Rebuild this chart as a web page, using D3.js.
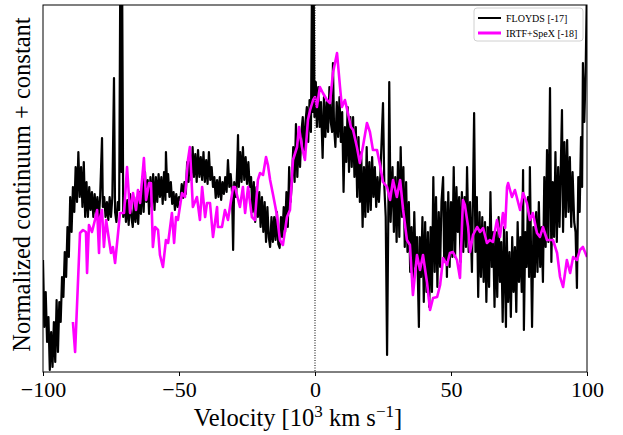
<!DOCTYPE html>
<html>
<head>
<meta charset="utf-8">
<script src="https://cdn.jsdelivr.net/npm/d3@7"></script>
<style>
  body { margin: 0; background: #fff; }
  svg text { font-family: "Liberation Serif", "DejaVu Serif", serif; }
</style>
</head>
<body>
<svg id="chart" width="623" height="435"></svg>
<script>
var width = 623,
    height = 435;

const margin = { top: 5, right: 36, bottom: 63, left: 43 };

// x ticks
const xTicks = [-100, -50, 0, 50, 100];

// legend labels
const seriesNames = ["FLOYDS [-17]", "IRTF+SpeX [-18]"];

// FLOYDS spectrum: [velocity (10^3 km/s), normalized flux + const]
const floyds = [
    [-100, 1.12], [-99.5, 0.45], [-99, 0.80], [-98.5, 0.30], [-98, 0.55], [-97.5, 0.02], [-97, 0.40], [-96.5, 0.05],
    [-96, 0.50], [-95.5, 0.10], [-95, 0.72], [-94.5, 0.20], [-94, 0.70], [-93.5, 0.50], [-93, 0.95], [-92.5, 0.75],
    [-92, 1.20], [-91.5, 0.95], [-91, 1.45], [-90.5, 1.15], [-90, 1.75], [-89.5, 1.40], [-89, 1.85], [-88.5, 1.60],
    [-88, 2.05], [-87.5, 1.70], [-87, 2.20], [-86.5, 1.75], [-86, 2.05], [-85.5, 1.65], [-85, 2.10], [-84.5, 1.55],
    [-84, 1.90], [-83.5, 1.55], [-83, 1.85], [-82.5, 1.62], [-82, 1.80], [-81.5, 1.55], [-81, 1.78], [-80.5, 1.58],
    [-80, 1.75], [-79.5, 1.52], [-79, 1.75], [-78.3, 2.34], [-78, 1.65], [-77.5, 1.75], [-77, 1.55], [-76.5, 1.70],
    [-76, 1.52], [-75.5, 1.75], [-75, 1.55], [-74.5, 1.75], [-73.9, 2.94], [-73.5, 1.60], [-73, 1.50], [-72.5, 1.70],
    [-72, 1.62], [-71.6, 3.90], [-71.2, 2.00], [-70.9, 3.90], [-70.5, 1.55], [-70, 1.75], [-69.5, 1.50], [-69, 1.72],
    [-68.5, 1.47], [-68, 1.78], [-67.5, 1.55], [-67, 1.45], [-66.5, 1.72], [-66, 1.50], [-65.5, 1.75], [-65, 1.48],
    [-64.5, 1.80], [-64, 1.58], [-63.5, 1.95], [-63, 1.60], [-62.5, 2.00], [-62, 1.70], [-61.5, 1.92], [-61, 1.58],
    [-60.5, 1.95], [-60, 1.65], [-59.5, 1.98], [-59, 1.62], [-58.5, 1.95], [-58, 1.70], [-57.5, 1.98], [-57, 1.75],
    [-56.5, 1.95], [-56, 1.68], [-55.5, 2.00], [-55, 1.72], [-54.8, 2.20], [-54.3, 1.80], [-54, 1.98], [-53.5, 1.75],
    [-53, 1.90], [-52.5, 1.68], [-52, 1.80], [-51.5, 1.62], [-51, 1.78], [-50.5, 1.65], [-50, 1.75], [-49.5, 1.72],
    [-49, 1.88], [-48.5, 1.74], [-48, 1.90], [-47.5, 1.78], [-47, 2.10], [-46.5, 1.90], [-46, 2.20], [-45.5, 1.92],
    [-45, 2.25], [-44.5, 1.95], [-44, 2.18], [-43.5, 1.90], [-43, 2.22], [-42.5, 1.95], [-42, 2.15], [-41.5, 1.92],
    [-41, 2.20], [-40.5, 1.90], [-40, 2.12], [-39.5, 1.88], [-39, 2.20], [-38.5, 1.92], [-38, 2.05], [-37.5, 1.85],
    [-37, 1.95], [-36.5, 1.74], [-36, 1.92], [-35.5, 1.75], [-35, 1.95], [-34.5, 1.72], [-34, 1.90], [-33.5, 1.78],
    [-33, 1.95], [-32.5, 1.80], [-32, 2.12], [-31.5, 1.85], [-31, 1.98], [-30.5, 1.80], [-30.1, 1.22], [-29.7, 1.90],
    [-29, 1.75], [-28.6, 2.05], [-28.3, 2.37], [-28, 1.85], [-27.5, 2.20], [-27, 1.90], [-26.5, 2.25], [-26, 1.92],
    [-25.5, 2.15], [-25, 1.88], [-24.5, 2.10], [-24, 1.85], [-23.5, 1.95], [-23, 1.60], [-22.5, 1.90], [-22, 1.50],
    [-21.5, 1.85], [-21, 1.55], [-20.5, 1.80], [-20, 1.45], [-19.5, 1.75], [-19, 1.40], [-18.5, 1.70], [-18, 1.30],
    [-17.5, 1.65], [-17, 1.35], [-16.5, 1.25], [-16, 1.55], [-15.5, 1.30], [-15, 1.55], [-14.5, 1.32], [-14, 1.60],
    [-13.5, 1.28], [-13, 1.24], [-12.5, 1.55], [-12, 1.35], [-11.5, 1.65], [-11, 1.40], [-10.5, 1.80], [-10, 1.45],
    [-9.5, 2.05], [-9, 1.70], [-8.5, 1.90], [-8, 2.25], [-7.5, 1.90], [-7, 2.48], [-6.5, 1.95], [-6, 2.35],
    [-5.5, 2.05], [-5, 2.40], [-4.5, 2.55], [-4, 2.15], [-3.5, 2.50], [-3, 2.65], [-2.5, 2.30], [-2, 2.72],
    [-1.5, 2.40], [-1.1, 3.90], [-0.8, 2.60], [-0.5, 3.90], [-0.2, 2.55], [0.3, 2.90], [0.7, 2.45], [1.2, 2.85],
    [1.7, 2.45], [2.2, 2.70], [2.8, 2.14], [3.3, 2.75], [3.8, 2.35], [4.3, 2.70], [4.8, 2.40], [5.3, 2.85],
    [5.8, 2.50], [6.3, 2.40], [6.6, 3.09], [7.0, 2.45], [7.5, 2.25], [8, 2.70], [8.5, 2.35], [9, 2.75],
    [9.5, 2.30], [10, 2.60], [10.5, 1.80], [11, 2.45], [11.5, 2.10], [12, 2.65], [12.5, 2.00], [13, 2.55],
    [13.5, 2.05], [14, 2.55], [14.5, 1.95], [15, 2.45], [15.5, 1.75], [16, 2.35], [16.5, 1.70], [17, 2.20],
    [17.5, 1.45], [18, 2.05], [18.5, 1.55], [19, 2.25], [19.5, 1.60], [20, 2.10], [20.5, 1.62], [21, 2.15],
    [21.5, 1.75], [22, 2.05], [22.5, 1.65], [23, 1.95], [23.5, 1.70], [24, 1.95], [25, 2.69], [25.5, 1.85],
    [26, 1.55], [26.5, 0.17], [27, 1.70], [27.3, 2.90], [27.8, 1.50], [28.5, 2.05], [29, 1.40], [29.5, 1.95],
    [30, 1.30], [30.5, 2.10], [31, 1.35], [31.5, 2.25], [32, 1.55], [32.5, 2.05], [33, 1.25], [33.5, 1.90],
    [34, 1.20], [34.5, 1.70], [35, 1.00], [35.5, 1.45], [36, 0.85], [36.5, 1.60], [37, 1.05], [37.5, 1.35],
    [38.2, 0.45], [38.5, 1.35], [39, 0.95], [39.5, 1.55], [40, 0.70], [40.5, 1.50], [41, 0.80], [41.5, 1.40],
    [42, 0.65], [42.5, 1.45], [43, 0.80], [43.5, 1.95], [44, 1.00], [44.5, 1.75], [45, 0.85], [45.5, 1.60],
    [46, 1.05], [46.5, 1.70], [47.1, 1.95], [47.5, 1.10], [48, 1.70], [48.5, 0.95], [49, 1.80], [49.5, 1.05],
    [50, 1.70], [50.5, 1.15], [51, 2.05], [51.5, 1.15], [52, 1.85], [52.5, 1.40], [53, 1.75], [53.5, 1.10],
    [54, 1.80], [54.5, 1.20], [55, 1.75], [55.5, 1.25], [55.9, 2.05], [56.5, 1.20], [57, 1.70], [57.7, 1.00],
    [58.5, 2.59], [59, 1.20], [59.5, 1.75], [60, 0.75], [60.5, 1.60], [61, 0.95], [61.5, 1.55], [62, 0.90],
    [62.5, 1.50], [63, 0.70], [63.5, 1.45], [64, 0.85], [64.5, 1.80], [65, 1.05], [65.5, 1.40], [66, 0.65],
    [66.5, 1.40], [67, 0.75], [67.5, 1.55], [68, 0.90], [68.5, 1.30], [69, 0.50], [69.5, 1.45], [70.2, 0.45],
    [70.5, 1.40], [71, 0.70], [71.5, 1.20], [72, 0.55], [72.5, 1.35], [73, 0.80], [73.5, 1.25], [74, 0.60],
    [74.5, 1.50], [75, 0.90], [75.5, 1.35], [76, 0.80], [76.5, 2.02], [76.8, 0.42], [77.3, 1.40], [77.8, 1.05],
    [78.3, 1.75], [78.7, 0.95], [79.0, 2.05], [79.8, 0.45], [80.3, 1.45], [80.8, 0.95], [81.3, 1.60], [81.8, 1.00],
    [82.3, 1.70], [82.8, 1.05], [83.3, 1.45], [83.8, 0.90], [84.3, 1.95], [84.8, 1.25], [85.3, 2.22], [85.8, 1.30],
    [86.4, 2.84], [86.9, 1.10], [87.4, 1.90], [87.9, 1.35], [88.4, 2.20], [88.9, 1.30], [89.4, 2.05], [89.9, 1.45],
    [90.8, 2.62], [91.2, 1.40], [91.7, 2.30], [92.2, 1.55], [92.7, 2.32], [93.2, 1.60], [93.7, 2.15], [94.2, 1.45],
    [94.7, 2.00], [95.3, 1.50], [95.8, 1.40], [96.3, 0.84], [96.8, 1.95], [97.3, 1.60], [97.8, 2.35], [98.2, 1.85],
    [98.5, 3.09], [99, 2.50], [99.5, 3.00], [100, 3.90]
];

// IRTF+SpeX spectrum
const spex = [
    [-89.0, 0.50], [-88.2, 0.20], [-86.4, 1.39], [-85.3, 1.42], [-84.2, 1.40], [-83.8, 0.99], [-83.1, 1.47], [-82.0, 1.40],
    [-80.9, 1.52], [-80.1, 1.62], [-79.4, 1.19], [-79.0, 1.55], [-78.3, 1.62], [-77.6, 1.25], [-76.8, 1.52], [-76.1, 1.39],
    [-75.0, 1.19], [-74.3, 1.25], [-73.5, 1.09], [-72.4, 1.39], [-71.7, 1.59], [-70.2, 1.59], [-69.1, 2.05], [-68.0, 1.59],
    [-66.9, 1.79], [-65.8, 1.62], [-65.1, 1.82], [-64.3, 1.69], [-62.9, 2.14], [-62.1, 1.72], [-61.0, 1.89], [-60.3, 1.89],
    [-59.6, 1.25], [-58.8, 1.45], [-57.7, 1.42], [-57.0, 1.17], [-55.9, 1.05], [-54.8, 1.32], [-54.0, 1.29], [-52.6, 1.59],
    [-51.8, 1.29], [-51.1, 1.55], [-50.4, 1.52], [-48.9, 1.79], [-47.8, 1.75], [-46.7, 2.12], [-46.0, 2.25], [-44.9, 1.65],
    [-43.4, 1.75], [-42.3, 1.52], [-41.5, 1.85], [-40.4, 1.55], [-39.7, 1.69], [-38.6, 1.69], [-37.5, 1.35], [-36.0, 1.65],
    [-35.7, 1.45], [-34.2, 1.45], [-33.1, 1.62], [-32.0, 1.52], [-30.1, 1.85], [-29.4, 1.85], [-27.6, 1.65], [-26.5, 1.85],
    [-25.7, 1.59], [-24.6, 1.85], [-23.2, 1.55], [-22.1, 1.52], [-21.0, 1.92], [-20.2, 1.99], [-19.1, 1.97], [-18.0, 2.15],
    [-17.3, 2.07], [-16.5, 1.92], [-15.4, 1.77], [-14.0, 1.57], [-12.9, 1.32], [-11.8, 1.27], [-10.3, 1.55], [-9.2, 1.62],
    [-8.1, 2.12], [-6.6, 2.25], [-5.9, 2.45], [-4.8, 2.25], [-3.7, 2.12], [-2.6, 2.52], [-1.8, 2.62], [-0.7, 2.72],
    [0, 2.75], [0.7, 2.65], [1.8, 2.85], [2.9, 2.79], [4.4, 2.72], [5.5, 2.69], [6.6, 2.99], [8.1, 3.19],
    [9.2, 2.85], [9.9, 2.65], [11.0, 2.72], [12.1, 2.59], [13.2, 2.45], [14.0, 2.42], [15.4, 2.25], [16.5, 2.09],
    [17.6, 2.25], [19.1, 2.49], [20.2, 2.40], [21.3, 2.22], [22.8, 2.22], [23.9, 2.07], [25.0, 1.90], [26.5, 1.85],
    [27.6, 1.72], [28.7, 1.92], [30.1, 1.75], [31.3, 1.92], [32.4, 1.62], [33.8, 1.32], [34.9, 1.27], [36.0, 0.77],
    [37.5, 1.17], [38.6, 1.02], [39.7, 1.17], [41.2, 0.89], [42.3, 0.62], [43.4, 0.74], [44.9, 0.75], [46.0, 0.87],
    [47.1, 1.14], [48.5, 1.07], [49.6, 1.19], [50.7, 1.20], [52.2, 1.12], [53.3, 0.94], [54.4, 1.72], [55.1, 1.67],
    [56.3, 1.45], [57.0, 1.20], [58.1, 1.37], [59.6, 1.45], [60.7, 1.40], [61.8, 1.44], [63.2, 1.29], [64.3, 1.32],
    [65.4, 1.30], [66.9, 1.52], [68.0, 1.35], [69.1, 1.59], [69.9, 1.44], [70.6, 1.85], [71.0, 1.89], [72.4, 1.75],
    [73.5, 1.82], [75.4, 1.62], [76.5, 1.79], [77.9, 1.69], [79.0, 1.52], [80.1, 1.59], [81.6, 1.39], [82.7, 1.35],
    [83.8, 1.45], [85.3, 1.32], [86.4, 1.32], [87.5, 1.32], [89.0, 1.19], [90.1, 0.95], [91.2, 0.85], [92.6, 1.12],
    [93.8, 0.99], [94.9, 1.15], [96.3, 1.12], [97.4, 1.22], [98.5, 1.25], [100, 1.15]
];

const svg = d3.select("#chart");
const plotW = width - margin.left - margin.right;
const plotH = height - margin.top - margin.bottom;

const x = d3.scaleLinear().domain([-100, 100]).range([margin.left, margin.left + plotW]);
const y = d3.scaleLinear().domain([0, 3.67]).range([margin.top + plotH, margin.top]);

svg.append("defs").append("clipPath").attr("id", "clip")
    .append("rect")
    .attr("x", margin.left).attr("y", margin.top)
    .attr("width", plotW).attr("height", plotH);

const line = d3.line()
    .x(function (d) { return x(d[0]); })
    .y(function (d) { return y(d[1]); });

const plot = svg.append("g").attr("clip-path", "url(#clip)");

plot.append("path")
    .datum(floyds)
    .attr("fill", "none")
    .attr("stroke", "#000")
    .attr("stroke-width", 2.2)
    .attr("stroke-linejoin", "round")
    .attr("d", line);

plot.append("path")
    .datum(spex)
    .attr("fill", "none")
    .attr("stroke", "#ff00ff")
    .attr("stroke-width", 2.6)
    .attr("stroke-linejoin", "round")
    .attr("d", line);

// dotted zero-velocity line
svg.append("line")
    .attr("x1", x(0)).attr("x2", x(0))
    .attr("y1", margin.top).attr("y2", margin.top + plotH)
    .attr("stroke", "#000")
    .attr("stroke-width", 1)
    .attr("stroke-dasharray", "1,1.5");

// frame
svg.append("rect")
    .attr("x", margin.left).attr("y", margin.top)
    .attr("width", plotW).attr("height", plotH)
    .attr("fill", "none")
    .attr("stroke", "#000")
    .attr("stroke-width", 1);

// x axis
const xAxis = svg.append("g")
    .attr("transform", "translate(0," + (margin.top + plotH) + ")")
    .call(d3.axisBottom(x).tickValues(xTicks).tickSize(4).tickPadding(5).tickFormat(d3.format("d")));
xAxis.select(".domain").remove();
xAxis.selectAll("text")
    .attr("font-size", 22)
    .attr("fill", "#000")
    .style("font-family", "'Liberation Serif', serif")
    .text(function (d) { return d < 0 ? "\u2212" + Math.abs(d) : d; });

// x label
const xl = svg.append("text")
    .attr("x", 298)
    .attr("y", 426)
    .attr("text-anchor", "middle")
    .attr("font-size", 24.5)
    .attr("fill", "#000");
xl.append("tspan").text("Velocity [10");
xl.append("tspan").attr("dy", -9).attr("font-size", 17).text("3");
xl.append("tspan").attr("dy", 9).text(" km s");
xl.append("tspan").attr("dy", -9).attr("font-size", 17).text("\u22121");
xl.append("tspan").attr("dy", 9).text("]");

// y label
svg.append("text")
    .attr("transform", "translate(30," + (margin.top + plotH / 2 - 4) + ") rotate(-90)")
    .attr("text-anchor", "middle")
    .attr("font-size", 24.5)
    .attr("fill", "#000")
    .text("Normalized continuum + constant");

// legend
const legend = svg.append("g");
legend.append("rect")
    .attr("x", 474).attr("y", 8)
    .attr("width", 109).attr("height", 33)
    .attr("rx", 3)
    .attr("fill", "#fff")
    .attr("fill-opacity", 0.8)
    .attr("stroke", "#d0d0d0")
    .attr("stroke-width", 1);

const legendColors = ["#000", "#ff00ff"];
const legendWidths = [2, 3];
seriesNames.forEach(function (name, i) {
    const ly = 18 + i * 15;
    legend.append("line")
        .attr("x1", 478).attr("x2", 501)
        .attr("y1", ly).attr("y2", ly)
        .attr("stroke", legendColors[i])
        .attr("stroke-width", legendWidths[i]);
    legend.append("text")
        .attr("x", 506).attr("y", ly + 3.5)
        .attr("font-size", 10)
        .attr("fill", "#000")
        .text(name);
});
</script>
</body>
</html>
